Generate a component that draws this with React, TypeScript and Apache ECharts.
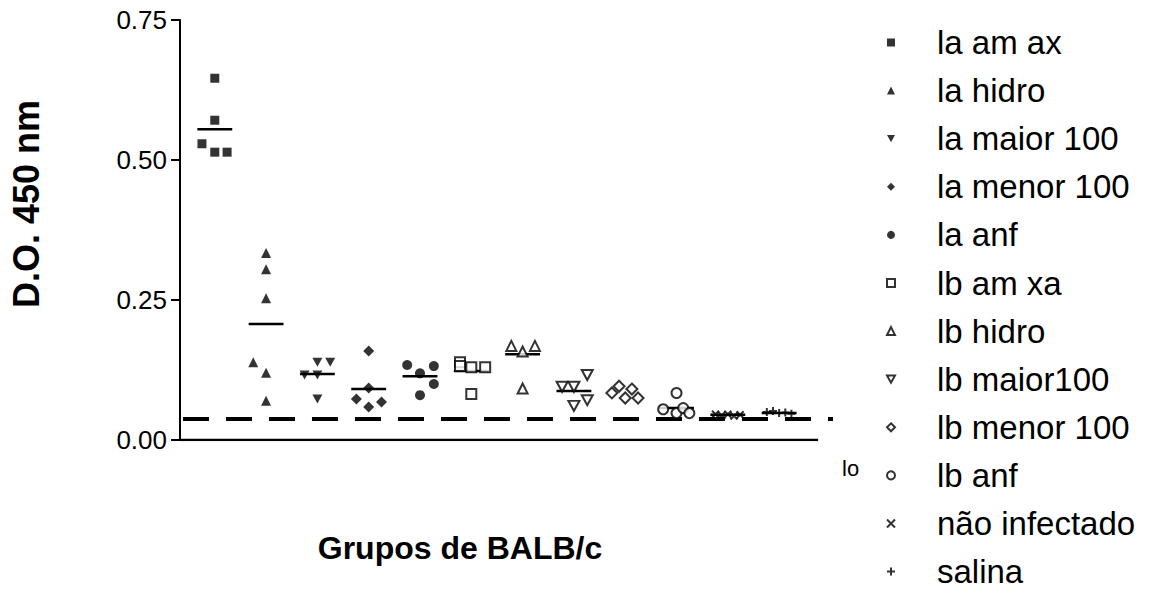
import React, { useEffect, useRef } from "react";
import * as echarts from "echarts";

// ---- Data ----
const groups = [
  "la am ax",
  "la hidro",
  "la maior 100",
  "la menor 100",
  "la anf",
  "lb am xa",
  "lb hidro",
  "lb maior100",
  "lb menor 100",
  "lb anf",
  "não infectado",
  "salina",
];

// D.O. 450 nm values of each mouse in every group
const values: number[][] = [
  [0.646, 0.571, 0.529, 0.514, 0.514],
  [0.334, 0.305, 0.253, 0.139, 0.12, 0.07],
  [0.139, 0.139, 0.116, 0.116, 0.073],
  [0.159, 0.093, 0.073, 0.068, 0.059],
  [0.134, 0.132, 0.119, 0.1, 0.08],
  [0.139, 0.132, 0.13, 0.13, 0.082],
  [0.168, 0.158, 0.168, 0.092],
  [0.095, 0.095, 0.116, 0.061, 0.071],
  [0.084, 0.096, 0.075, 0.091, 0.075],
  [0.055, 0.084, 0.048, 0.057, 0.048],
  [0.046, 0.044, 0.046, 0.043, 0.045],
  [0.05, 0.052, 0.048, 0.049, 0.047],
];

// horizontal spread of the dots inside each group column (in group units)
const spread: number[][] = [
  [0, 0, -0.25, 0, 0.24],
  [0, 0, 0, -0.25, 0, 0],
  [0, 0.25, -0.25, 0, 0],
  [0, 0, -0.24, 0.25, 0],
  [-0.25, 0.27, 0, 0.27, 0],
  [-0.22, -0.22, 0, 0.27, 0],
  [-0.22, 0, 0.24, 0],
  [-0.23, 0, 0.26, 0, 0.26],
  [-0.26, -0.12, 0, 0.13, 0.25],
  [-0.26, 0, 0, 0.13, 0.25],
  [-0.24, -0.12, 0, 0.12, 0.24],
  [-0.24, -0.12, 0, 0.12, 0.24],
];

// group means as drawn (null = not visible)
const means: (number | null)[] = [
  0.555, 0.207, 0.118, 0.091, 0.114, 0.123, 0.153, 0.0875, null, 0.057, 0.045, 0.048,
];

const cutoff = 0.0375;
const yTicks = [0, 0.25, 0.5, 0.75];

const X_MIN = -0.678;
const X_MAX = 12.05;
const BASE_END = 11.76;
const CUT_START = -0.62;
const MEAN_HALF = 0.34;

const DOWN_TRI = "path://M0,0L10,0L5,9Z";
const CROSS = "path://M0,0L10,10M10,0L0,10";
const PLUS = "path://M5,0L5,10M0,5L10,5";

const markerStyles: { symbol: string; open: boolean; size: number | number[] }[] = [
  { symbol: "rect", open: false, size: 9 },
  { symbol: "triangle", open: false, size: 10 },
  { symbol: DOWN_TRI, open: false, size: [10, 9] },
  { symbol: "diamond", open: false, size: 11 },
  { symbol: "circle", open: false, size: 10 },
  { symbol: "rect", open: true, size: 10 },
  { symbol: "triangle", open: true, size: 10 },
  { symbol: DOWN_TRI, open: true, size: [11, 10] },
  { symbol: "diamond", open: true, size: 11 },
  { symbol: "circle", open: true, size: 10 },
  { symbol: CROSS, open: false, size: 7 },
  { symbol: PLUS, open: false, size: 8 },
];

const FONT = "'Liberation Sans', Arial, Helvetica, sans-serif";

export default function App() {
  const ref = useRef<HTMLDivElement>(null);

  useEffect(() => {
    document.body.style.margin = "0";
    if (!ref.current) return;
    const chart = echarts.init(ref.current, undefined, { renderer: "svg" });

    const scatterSeries = groups.map((name, gi) => {
      const m = markerStyles[gi];
      const isLineSym = m.symbol === CROSS || m.symbol === PLUS;
      return {
        name,
        type: "scatter",
        symbol: m.symbol,
        symbolSize: m.size,
        z: 5,
        itemStyle: m.open
          ? { color: "#fff", borderColor: "#000", borderWidth: 2 }
          : isLineSym
          ? { color: "#000", borderColor: "#000", borderWidth: 2 }
          : { color: "#000" },
        data: values[gi].map((v, k) => [gi + spread[gi][k], v]),
      };
    });

    const meanData = means
      .map((m, i) => (m == null ? null : [i, m]))
      .filter((d) => d != null);

    chart.setOption({
      animation: false,
      backgroundColor: "#fff",
      grid: { left: 180, top: 20, right: 322, bottom: 154, containLabel: false },
      xAxis: {
        type: "value",
        min: X_MIN,
        max: X_MAX,
        axisLine: { show: false },
        axisTick: { show: false },
        axisLabel: { show: false },
        splitLine: { show: false },
      },
      yAxis: {
        type: "value",
        min: yTicks[0],
        max: yTicks[yTicks.length - 1],
        interval: 0.25,
        axisLine: { show: true, onZero: false, lineStyle: { color: "#000", width: 2 } },
        axisTick: { show: true, length: 9, lineStyle: { color: "#000", width: 2 } },
        axisLabel: {
          formatter: (v: number) => v.toFixed(2),
          fontSize: 26,
          color: "#000",
          fontFamily: FONT,
          margin: 13,
        },
        splitLine: { show: false },
      },
      legend: {
        data: groups,
        orient: "vertical",
        left: 886,
        top: 26,
        bottom: 0,
        padding: 0,
        itemWidth: 8,
        itemHeight: 8,
        itemGap: 15.1,
        textStyle: {
          fontSize: 33,
          color: "#000",
          fontFamily: FONT,
          padding: [0, 0, 0, 37],
        },
        selectedMode: false,
      },
      graphic: [
        {
          type: "text",
          x: 26,
          y: 204,
          rotation: Math.PI / 2,
          style: {
            text: "D.O. 450 nm",
            font: `bold 36px ${FONT}`,
            fill: "#000",
            textAlign: "center",
            textVerticalAlign: "middle",
          },
        },
        {
          type: "text",
          x: 460,
          y: 548,
          style: {
            text: "Grupos de BALB/c",
            font: `bold 32px ${FONT}`,
            fill: "#000",
            textAlign: "center",
            textVerticalAlign: "middle",
          },
        },
        {
          type: "text",
          x: 842,
          y: 468,
          style: {
            text: "lo",
            font: `22px ${FONT}`,
            fill: "#000",
            textAlign: "left",
            textVerticalAlign: "middle",
          },
        },
      ],
      series: [
        {
          name: "baseline",
          type: "line",
          silent: true,
          symbol: "none",
          z: 3,
          lineStyle: { color: "#000", width: 2.5 },
          data: [
            [X_MIN, 0],
            [BASE_END, 0],
          ],
        },
        {
          name: "cutoff",
          type: "line",
          silent: true,
          symbol: "none",
          z: 2,
          lineStyle: { color: "#000", width: 4, type: [26, 17] },
          data: [
            [CUT_START, cutoff],
            [X_MAX, cutoff],
          ],
        },
        {
          name: "mean",
          type: "custom",
          silent: true,
          z: 4,
          renderItem: (params: any, api: any) => {
            const i = api.value(0);
            const m = api.value(1);
            const p1 = api.coord([i - MEAN_HALF, m]);
            const p2 = api.coord([i + MEAN_HALF, m]);
            return {
              type: "line",
              shape: { x1: p1[0], y1: p1[1], x2: p2[0], y2: p2[1] },
              style: { stroke: "#000", lineWidth: 2.5 },
            };
          },
          data: meanData,
        },
        ...scatterSeries,
      ],
    });

    return () => chart.dispose();
  }, []);

  return <div ref={ref} style={{ width: 1155, height: 594 }} />;
}
